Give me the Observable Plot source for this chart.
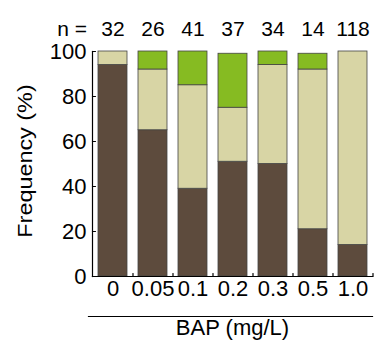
<!DOCTYPE html>
<html>
<head>
<meta charset="utf-8">
<script src="https://cdn.jsdelivr.net/npm/d3@7"></script>
<script src="https://cdn.jsdelivr.net/npm/@observablehq/plot@0.6"></script>
<style>
  html, body { margin: 0; padding: 0; background: #fff; }
  svg { display: block; font-family: "Liberation Sans", Arial, sans-serif; }
</style>
</head>
<body>
<div id="chart"></div>
<script>
const categories = ["0", "0.05", "0.1", "0.2", "0.3", "0.5", "1.0"];
const nCounts = [32, 26, 41, 37, 34, 14, 118];
const darkValues = [94, 65, 39, 51, 50, 21, 14];
const lightValues = [6, 27, 46, 24, 44, 71, 86];
const greenValues = [0, 8, 15, 24, 6, 7, 0];
const yTicks = [0, 20, 40, 60, 80, 100];
const seriesNames = ["dark", "light", "green"];
const seriesColors = ["#5d4b3d", "#d8d5a5", "#86bb22"];
const yTitle = "Frequency (%)";
const xTitle = "BAP (mg/L)";

const seriesValues = [darkValues, lightValues, greenValues];
const rows = [];
categories.forEach((c, i) => {
  seriesNames.forEach((s, j) => {
    rows.push({cat: c, series: s, order: j, value: seriesValues[j][i]});
  });
});

const tickShape = {draw(ctx, l) { ctx.moveTo(0, 0); ctx.lineTo(0, -l); }};

const width = 377, height = 349;
const marginLeft = 92, marginRight = 5, marginTop = 51, marginBottom = 73;
const step = (width - marginLeft - marginRight) / categories.length;

const chart = Plot.plot({
  width, height, marginLeft, marginRight, marginTop, marginBottom,
  style: {fontFamily: "'Liberation Sans', Arial, sans-serif", background: "#fff"},
  x: {domain: categories, paddingInner: 0.275, paddingOuter: 0.1375, axis: null},
  y: {domain: [0, 100], axis: null},
  color: {domain: seriesNames, range: seriesColors},
  marks: [
    Plot.barY(rows, Plot.stackY({order: "order"}, {
      x: "cat", y: "value", fill: "series", stroke: "#444", strokeWidth: 0.8
    })),
    Plot.frame({anchor: "left", stroke: "#000", strokeWidth: 1.2}),
    Plot.frame({anchor: "bottom", stroke: "#000", strokeWidth: 1.2}),
    Plot.vector(yTicks, {y: d => d, frameAnchor: "left", rotate: 90, length: 3, anchor: "start", shape: tickShape, stroke: "#000", strokeWidth: 1.2}),
    Plot.vector(categories, {x: d => d, frameAnchor: "bottom", dx: step / 2, length: 3, anchor: "start", shape: tickShape, stroke: "#000", strokeWidth: 1.2}),
    Plot.text(yTicks, {y: d => d, text: d => String(d), frameAnchor: "left", textAnchor: "end", dx: -6, fontSize: 22, fill: "#000"}),
    Plot.text(categories, {x: d => d, text: d => d, frameAnchor: "bottom", dy: 19, fontSize: 22, fill: "#000"}),
    Plot.text(categories, {x: d => d, text: (d, i) => String(nCounts[i]), frameAnchor: "top", dy: -30, fontSize: 21, fill: "#000"}),
    Plot.text([categories[0]], {x: d => d, text: () => "n =", frameAnchor: "top", dy: -30, dx: -26, textAnchor: "end", fontSize: 21, fill: "#000"}),
    Plot.frame({anchor: "bottom", dy: 40, insetLeft: -4, stroke: "#000", strokeWidth: 1.2}),
    Plot.text([xTitle], {text: d => d, frameAnchor: "bottom", dy: 58, fontSize: 22, fill: "#000"}),
    Plot.text([yTitle], {text: d => d, frameAnchor: "left", textAnchor: "middle", rotate: -90, dx: -67, dy: -3, fontSize: 20, fill: "#000"})
  ]
});
d3.select(chart).selectAll("text")
  .filter(function() { return this.textContent === yTitle; })
  .each(function() {
    const t = this.getAttribute("transform") || "";
    this.setAttribute("transform", t + " scale(1.17,1)");
  });
document.getElementById("chart").appendChild(chart);
</script>
</body>
</html>
